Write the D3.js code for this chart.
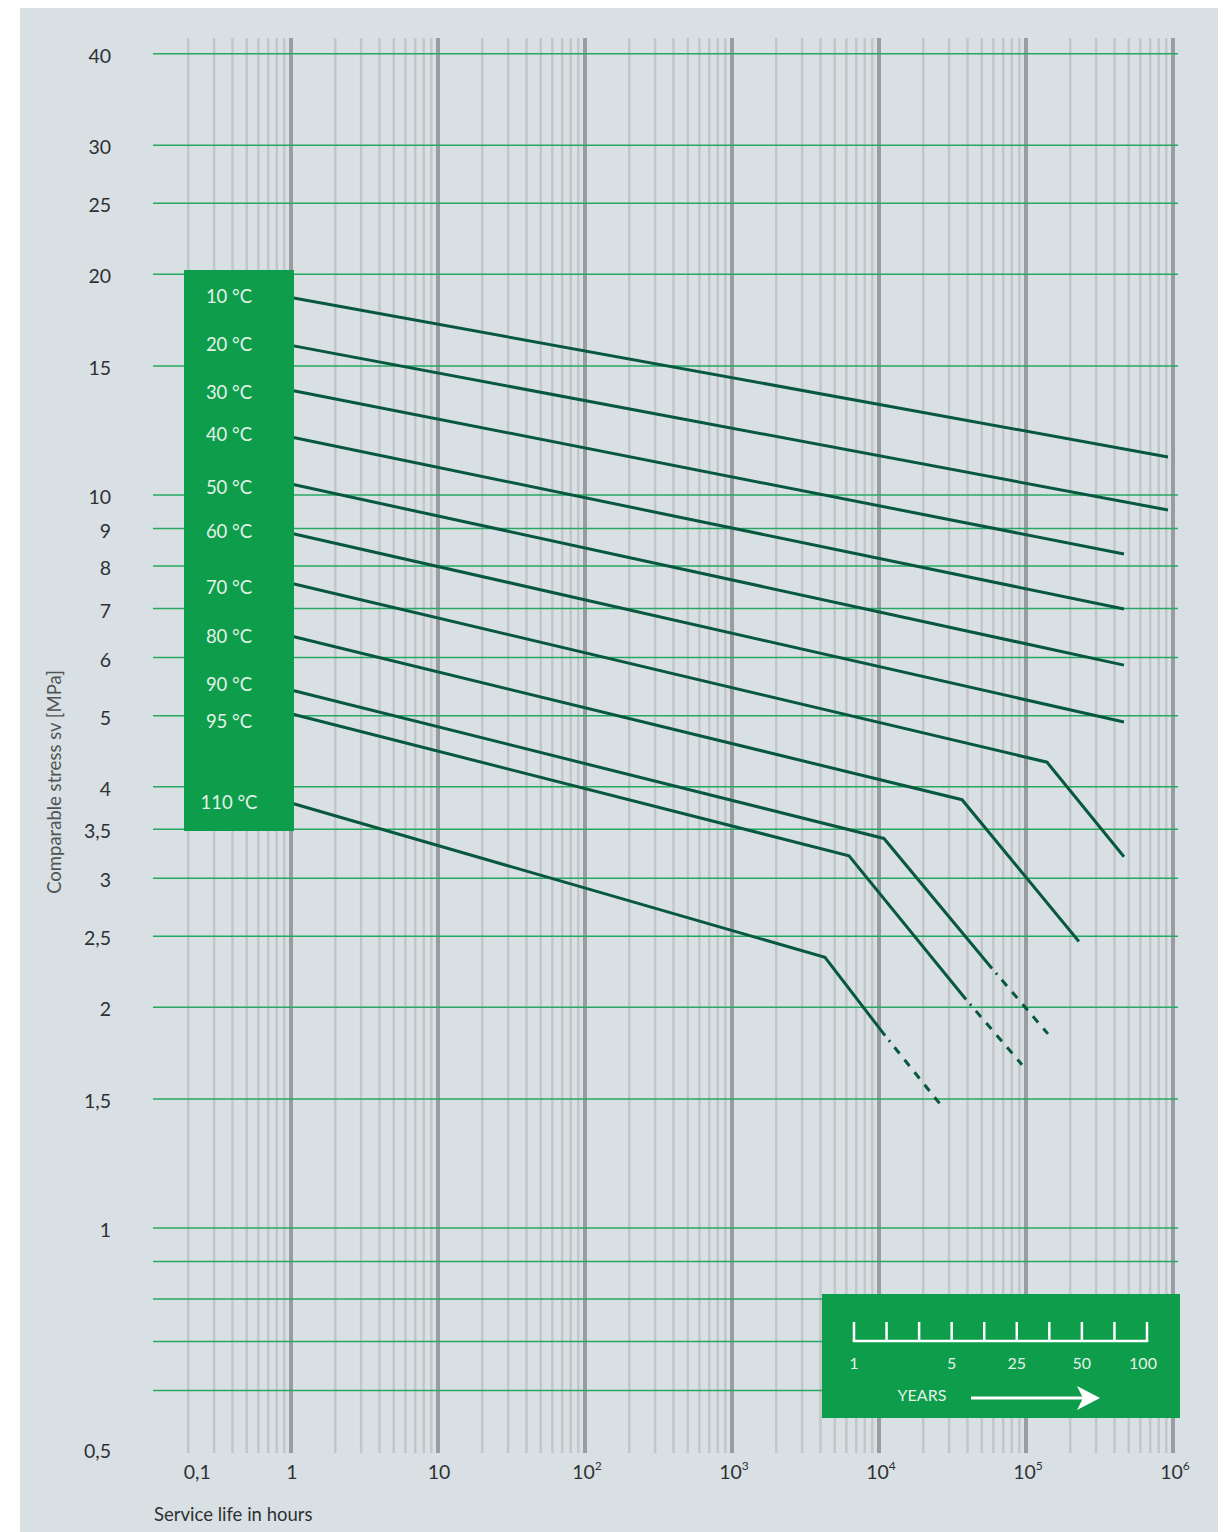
<!DOCTYPE html>
<html>
<head>
<meta charset="utf-8">
<script src="https://cdn.jsdelivr.net/npm/d3@7"></script>
<style>
  html, body { margin: 0; padding: 0; background: #ffffff; }
  svg { display: block; }
  text { font-family: Lato, "Open Sans", sans-serif; }
</style>
</head>
<body>
<svg id="chart" width="1223" height="1532"></svg>
<script>
// ---- data -------------------------------------------------------------
// Stress (MPa) gridlines and the labels on the y axis
const stressGrid = [40, 30, 25, 20, 15, 10, 9, 8, 7, 6, 5, 4, 3.5, 3, 2.5, 2, 1.5, 1, 0.9, 0.8, 0.7, 0.6];
const stressTicks = [40, 30, 25, 20, 15, 10, 9, 8, 7, 6, 5, 4, 3.5, 3, 2.5, 2, 1.5, 1, 0.5];
const stressTickLabels = ["40", "30", "25", "20", "15", "10", "9", "8", "7", "6", "5", "4", "3,5", "3", "2,5", "2", "1,5", "1", "0,5"];

// Service life (hours): decade lines and labels
const decades = [1, 10, 100, 1e3, 1e4, 1e5, 1e6];
const hourTicks = [0.2, 1, 10, 100, 1e3, 1e4, 1e5, 1e6];
const hourTickBase = ["0,1", "1", "10", "10", "10", "10", "10", "10"];
const hourTickExp = ["", "", "", "2", "3", "4", "5", "6"];

// Temperature curves: [hours, MPa] break points; solid part and extrapolated (dashed) part
const temperatures = ["10 °C", "20 °C", "30 °C", "40 °C", "50 °C", "60 °C", "70 °C", "80 °C", "90 °C", "95 °C", "110 °C"];
const labelStress = [18.63, 16.02, 13.82, 12.11, 10.25, 8.93, 7.47, 6.42, 5.52, 4.91, 3.81];
const curve10 = [[1, 18.6], [9.25e5, 11.27]];
const curve20 = [[1, 16.0], [9.25e5, 9.54]];
const curve30 = [[1, 13.9], [4.64e5, 8.31]];
const curve40 = [[1, 12.0], [4.64e5, 6.99]];
const curve50 = [[1, 10.35], [4.64e5, 5.86]];
const curve60 = [[1, 8.87], [4.64e5, 4.90]];
const curve70 = [[1, 7.58], [1.39e5, 4.32], [4.64e5, 3.21]];
const curve80 = [[1, 6.42], [3.67e4, 3.84], [2.29e5, 2.46]];
const curve90 = [[1, 5.42], [1.08e4, 3.40], [5.87e4, 2.26]];
const curve95 = [[1, 5.03], [6.25e3, 3.22], [3.91e4, 2.05]];
const curve110 = [[1, 3.80], [4.29e3, 2.34], [1.10e4, 1.83]];
const dashed90 = [[5.87e4, 2.26], [1.41e5, 1.84]];
const dashed95 = [[3.91e4, 2.05], [9.4e4, 1.67]];
const dashed110 = [[1.10e4, 1.83], [2.72e4, 1.46]];
const curves = [curve10, curve20, curve30, curve40, curve50, curve60, curve70, curve80, curve90, curve95, curve110];
const dashedCurves = [dashed90, dashed95, dashed110];

// Years ruler
const yearTickCount = 10;
const yearLabels = ["1", "5", "25", "50", "100"];
const yearLabelIndex = [0, 3, 5, 7, 9];

// ---- drawing ----------------------------------------------------------
const svg = d3.select("#chart");
const C = {
  bg: "#d9e0e3",
  gridGreen: "#27a862",
  minor: "#c3c6c9",
  major: "#9a9da0",
  curve: "#07583f",
  box: "#0e9d4b",
  boxText: "#e4f2e8",
  text: "#2e3133"
};

const x = d3.scaleLog().domain([1, 1e6]).range([291, 1173]);
const y = d3.scaleLog().domain([10, 1]).range([495, 1228]);

const plotLeft = 153, plotRight = 1178, gridTop = 38, gridBottom = 1453;

svg.append("rect").attr("x", 20).attr("y", 8).attr("width", 1198).attr("height", 1524).attr("fill", C.bg);

// vertical minor lines (2..9 of each decade, starting at 0.2)
const minorVals = [];
for (let e = -1; e < 6; e++) {
  for (let m = 2; m <= 9; m++) minorVals.push(m * Math.pow(10, e));
}
svg.append("g").selectAll("line").data(minorVals).join("line")
  .attr("x1", d => x(d)).attr("x2", d => x(d))
  .attr("y1", gridTop).attr("y2", gridBottom)
  .attr("stroke", C.minor).attr("stroke-width", 2.5);

svg.append("g").selectAll("line").data(decades).join("line")
  .attr("x1", d => x(d)).attr("x2", d => x(d))
  .attr("y1", gridTop).attr("y2", gridBottom)
  .attr("stroke", C.major).attr("stroke-width", 4);

// horizontal green gridlines
svg.append("g").selectAll("line").data(stressGrid).join("line")
  .attr("x1", plotLeft).attr("x2", plotRight)
  .attr("y1", d => y(d)).attr("y2", d => y(d))
  .attr("stroke", C.gridGreen).attr("stroke-width", 1.5);

// y tick labels
svg.append("g").selectAll("text").data(stressTicks).join("text")
  .attr("x", 111).attr("y", d => y(d) + 9)
  .attr("text-anchor", "end")
  .attr("font-size", 19.5).attr("fill", C.text)
  .text((d, i) => stressTickLabels[i]);

// x tick labels
const xl = svg.append("g").selectAll("text").data(hourTicks).join("text")
  .attr("x", (d, i) => x(d) + (i === 0 ? 9 : (hourTickExp[i] ? 2 : 1)))
  .attr("y", 1479)
  .attr("text-anchor", "middle")
  .attr("font-size", 19.5).attr("fill", C.text);
xl.append("tspan").text((d, i) => hourTickBase[i]);
xl.append("tspan").attr("font-size", 12).attr("dy", -9).text((d, i) => hourTickExp[i]);

// axis titles
svg.append("text")
  .attr("transform", "translate(61,782) rotate(-90)")
  .attr("text-anchor", "middle")
  .attr("font-size", 18.5).attr("fill", "#505456")
  .text("Comparable stress sv [MPa]");
svg.append("text")
  .attr("x", 154).attr("y", 1521)
  .attr("font-size", 18.5).attr("fill", C.text)
  .text("Service life in hours");

// curves
const line = d3.line().x(d => x(d[0])).y(d => y(d[1]));
svg.append("g").selectAll("path").data(curves).join("path")
  .attr("d", line)
  .attr("fill", "none").attr("stroke", C.curve).attr("stroke-width", 3)
  .attr("stroke-linejoin", "miter");
svg.append("g").selectAll("path").data(dashedCurves).join("path")
  .attr("d", line)
  .attr("fill", "none").attr("stroke", C.curve).attr("stroke-width", 3)
  .attr("stroke-dasharray", "2,7,8,8,8,8,8,8,8,8,8,8,8,8,8,8")
  .attr("stroke-dashoffset", -6);

// temperature legend box
svg.append("rect").attr("x", 184).attr("y", 270).attr("width", 110).attr("height", 561).attr("fill", C.box);
svg.append("g").selectAll("text").data(labelStress).join("text")
  .attr("x", 229).attr("y", d => y(d) + 6.5)
  .attr("text-anchor", "middle")
  .attr("font-size", 18.5).attr("fill", C.boxText)
  .attr("font-family", "'Liberation Sans Narrow', Roboto, sans-serif")
  .text((d, i) => temperatures[i]);

// years ruler box
svg.append("rect").attr("x", 822).attr("y", 1294).attr("width", 358).attr("height", 124).attr("fill", C.box);
const yr = d3.scaleLinear().domain([0, yearTickCount - 1]).range([854, 1147]);
const ruler = svg.append("g").attr("stroke", "#ffffff").attr("stroke-width", 2.5);
ruler.append("line").attr("x1", yr(0) - 1.25).attr("x2", yr(yearTickCount - 1) + 1.25).attr("y1", 1341).attr("y2", 1341);
ruler.selectAll("line.tick").data(d3.range(yearTickCount)).join("line").attr("class", "tick")
  .attr("x1", d => yr(d)).attr("x2", d => yr(d)).attr("y1", 1322).attr("y2", 1341);
svg.append("g").selectAll("text").data(yearLabels).join("text")
  .attr("x", (d, i) => yr(yearLabelIndex[i]) - (i === yearLabels.length - 1 ? 4 : 0))
  .attr("y", 1369)
  .attr("text-anchor", "middle")
  .attr("font-size", 16).attr("fill", C.boxText)
  .attr("font-family", "'Liberation Sans Narrow', Roboto, sans-serif")
  .text(d => d);
svg.append("text").attr("x", 922).attr("y", 1401).attr("text-anchor", "middle")
  .attr("font-size", 16).attr("fill", C.boxText)
  .attr("font-family", "'Liberation Sans Narrow', Roboto, sans-serif")
  .text("YEARS");
svg.append("line").attr("x1", 971).attr("x2", 1086).attr("y1", 1398).attr("y2", 1398)
  .attr("stroke", "#ffffff").attr("stroke-width", 3);
svg.append("path").attr("d", "M1100,1398 L1077,1386 L1083,1398 L1077,1410 Z").attr("fill", "#ffffff");
</script>
</body>
</html>
